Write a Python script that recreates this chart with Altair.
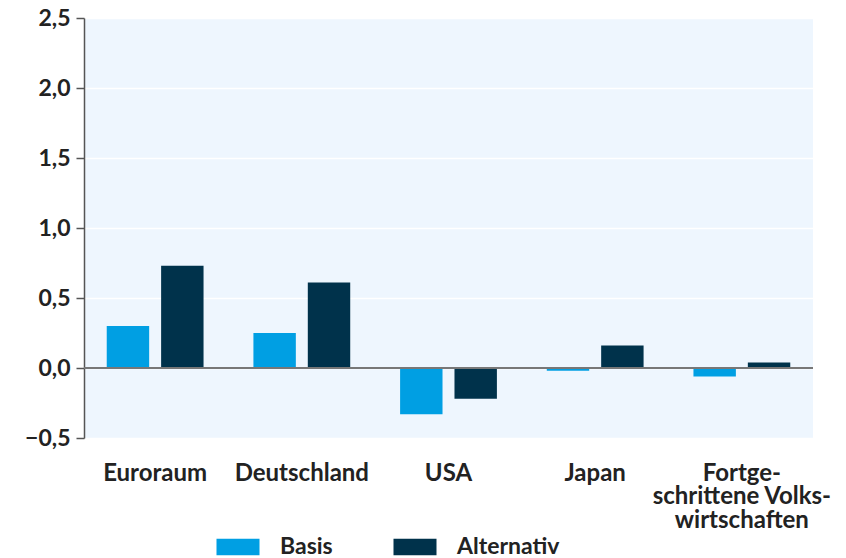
import altair as alt
import pandas as pd

categories = ["Euroraum", "Deutschland", "USA", "Japan", "Fortge-|schrittene Volks-|wirtschaften"]
basis = [0.30, 0.25, -0.33, -0.02, -0.06]
alternativ = [0.73, 0.61, -0.22, 0.16, 0.04]
series = ["Basis", "Alternativ"]
colors = ["#009FE3", "#00324B"]

rows = []
for c, b, a in zip(categories, basis, alternativ):
    rows.append({"cat": c, "serie": "Basis", "v": b})
    rows.append({"cat": c, "serie": "Alternativ", "v": a})
df = pd.DataFrame(rows)

FONT = "Lato"

bars = alt.Chart(df).mark_bar().encode(
    x=alt.X("cat:N", sort=categories,
            scale=alt.Scale(paddingInner=0.34, paddingOuter=0.155),
            axis=alt.Axis(title=None, labelAngle=0, domain=False, ticks=False,
                          labelExpr="split(datum.label, '|')",
                          labelFont=FONT, labelFontSize=24, labelFontWeight="bold",
                          labelColor="#222222", labelPadding=35, labelLineHeight=23.5,
                          labelBaseline="middle", labelLimit=300)),
    xOffset=alt.XOffset("serie:N", sort=series,
                        scale=alt.Scale(paddingInner=0.22)),
    y=alt.Y("v:Q", scale=alt.Scale(domain=[-0.5, 2.5], nice=False),
            axis=alt.Axis(title=None, values=[-0.5, 0, 0.5, 1.0, 1.5, 2.0, 2.5],
                          labelExpr="replace(replace(format(datum.value, '.1f'), '.', ','), '-', '\u2212')",
                          labelFont=FONT, labelFontSize=23, labelFontWeight="bold",
                          labelColor="#222222", labelPadding=6,
                          domainColor="#555555", domainWidth=1.5,
                          tickColor="#555555", tickSize=8, tickWidth=1.5,
                          gridColor="#FFFFFF", gridWidth=1.5)),
    color=alt.Color("serie:N", sort=series,
                    scale=alt.Scale(domain=series, range=colors),
                    legend=alt.Legend(title=None, orient="none", direction="horizontal",
                                      legendX=132, legendY=507,
                                      symbolType="M-1,-0.38L1,-0.38L1,0.38L-1,0.38Z",
                                      symbolSize=1850, symbolStrokeWidth=0,
                                      labelFont=FONT, labelFontSize=23, labelFontWeight="bold",
                                      labelColor="#222222", labelOffset=20,
                                      columnPadding=60)),
)

zero = alt.Chart(pd.DataFrame({"z": [0]})).mark_rule(color="#777777", strokeWidth=2).encode(
    y=alt.Y("z:Q")
)

chart = alt.layer(bars, zero).properties(
    width=729, height=420,
    autosize=alt.AutoSizeParams(type="none"),
    padding={"left": 76, "top": 10, "right": 25, "bottom": 140},
).configure_view(fill="#EEF6FE", stroke=None)

chart.save("out.html", embed_options={"renderer": "svg", "actions": False})
